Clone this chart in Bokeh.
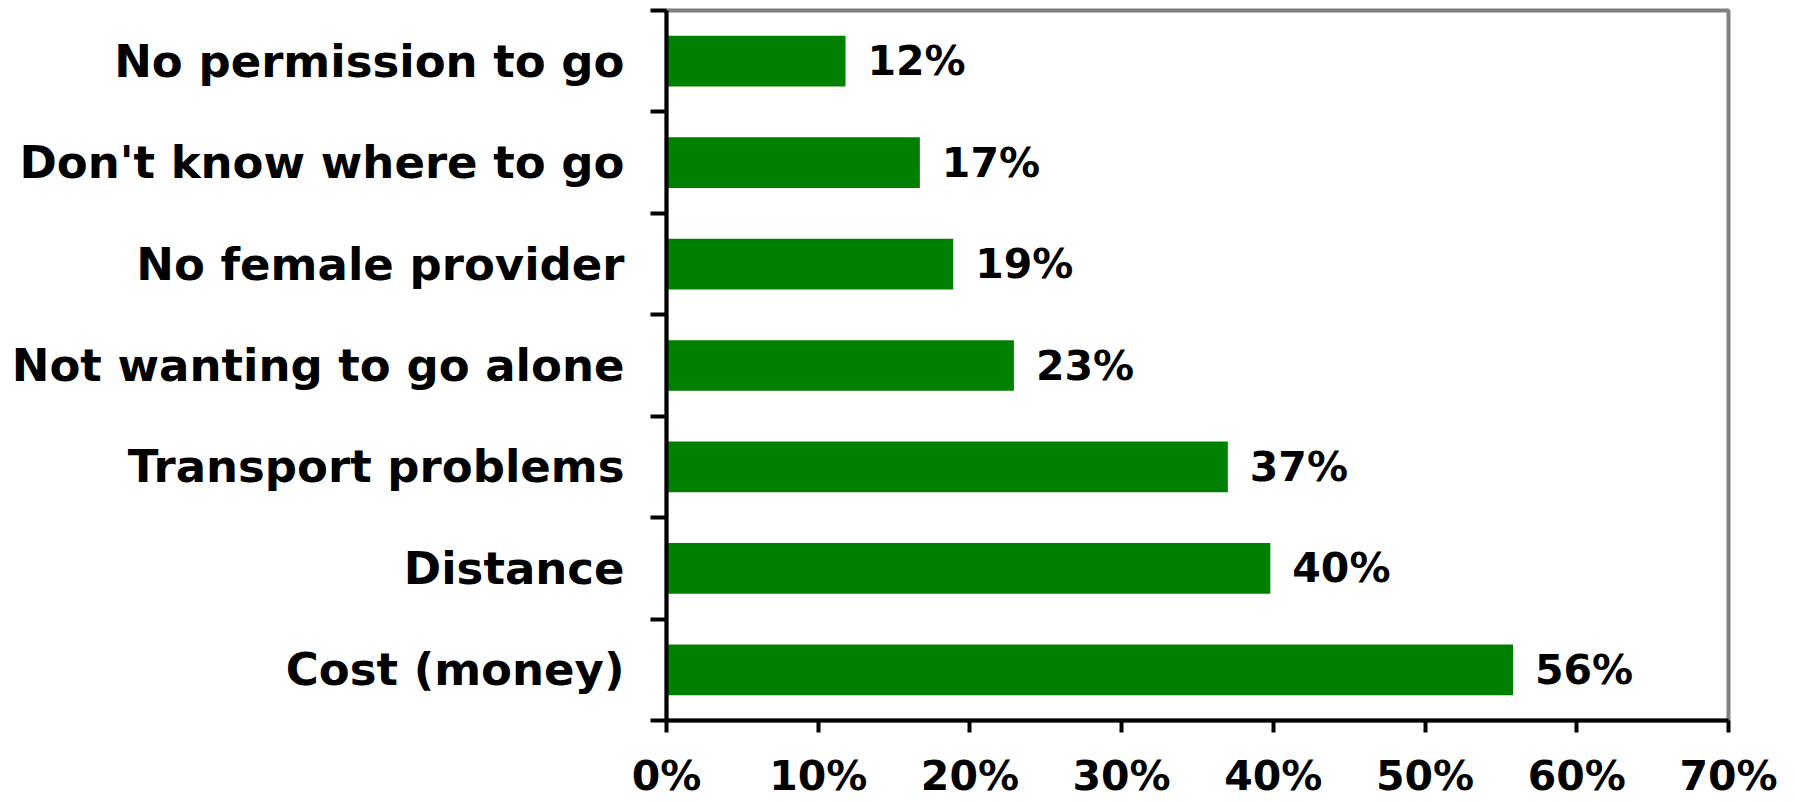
from bokeh.plotting import figure
from bokeh.models import Range1d, FixedTicker, PrintfTickFormatter, ColumnDataSource
from bokeh.core.properties import value
from bokeh.embed import file_html
from bokeh.resources import INLINE

# data (bottom to top)
categories = ["Cost (money)", "Distance", "Transport problems", "Not wanting to go alone",
              "No female provider", "Don't know where to go", "No permission to go"]
percent = [55.8, 39.8, 37.0, 22.9, 18.9, 16.7, 11.8]
x_ticks = [0, 10, 20, 30, 40, 50, 60, 70]

pos = [i + 0.5 for i in range(len(categories))]
labels = [f"{round(v)}%" for v in percent]
src = ColumnDataSource(dict(y=pos, v=percent, lab=labels))

FONT = "DejaVu Sans"

p = figure(width=1795, height=802, output_backend="svg", toolbar_location=None,
           x_range=Range1d(0, 70), y_range=Range1d(0, len(categories)),
           min_border_left=666, min_border_right=67, min_border_top=10, min_border_bottom=81)
p.background_fill_color = "white"
p.border_fill_color = "white"
p.outline_line_color = "#808080"
p.outline_line_width = 4
p.xgrid.visible = False
p.ygrid.visible = False

p.hbar(y="y", right="v", left=0, height=0.5, source=src, fill_color="#008000", line_color=None)
p.text(x="v", y="y", text="lab", source=src, x_offset=22, text_align="left", text_baseline="middle",
       text_font=value(FONT), text_font_style="bold", text_font_size="41px", text_color="black")

# x axis
xa = p.xaxis[0]
xa.ticker = FixedTicker(ticks=x_ticks, minor_ticks=[])
xa.formatter = PrintfTickFormatter(format="%d%%")
xa.axis_line_color = "black"
xa.axis_line_width = 4
xa.major_tick_line_color = "black"
xa.major_tick_line_width = 4
xa.major_tick_in = 0
xa.major_tick_out = 12
xa.minor_tick_line_color = None
xa.major_label_text_font = FONT
xa.major_label_text_font_style = "bold"
xa.major_label_text_font_size = "41px"
xa.major_label_text_color = "black"
xa.major_label_standoff = 19

# y axis: labels at centers, ticks at boundaries
ya = p.yaxis[0]
ya.ticker = FixedTicker(ticks=pos, minor_ticks=list(range(len(categories) + 1)))
ya.major_label_overrides = {pv: c for pv, c in zip(pos, categories)}
ya.axis_line_color = "black"
ya.axis_line_width = 4
ya.major_tick_line_color = None
ya.major_tick_in = 0
ya.major_tick_out = 0
ya.minor_tick_line_color = "black"
ya.minor_tick_line_width = 4
ya.minor_tick_in = 0
ya.minor_tick_out = 16
ya.major_label_text_font = FONT
ya.major_label_text_font_style = "bold"
ya.major_label_text_font_size = "45px"
ya.major_label_text_color = "black"
ya.major_label_standoff = 26

open("out.html", "w").write(file_html(p, INLINE))
